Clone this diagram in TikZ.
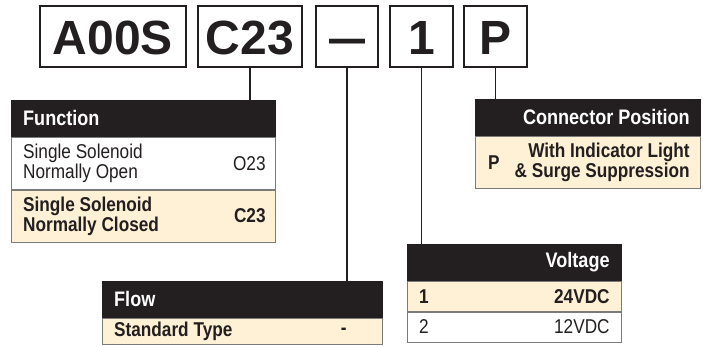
\documentclass[tikz,border=0pt]{standalone}
\usepackage{fontspec}
\usepackage{graphicx}
\setmainfont{Liberation Sans}
\newfontfamily\etroit{Liberation Sans}[FakeStretch=0.86]
\usetikzlibrary{positioning}

\definecolor{noir}{HTML}{231F20}
\definecolor{creme}{HTML}{FEF1D6}
\definecolor{bord}{HTML}{7A7A7A}

\tikzset{
  code/.style={draw=noir, line width=2pt, minimum height=61, text height=36, text depth=0,
    inner sep=0, font=\fontsize{48}{48}\selectfont\bfseries, text=noir},
  entete/.style={fill=noir, draw=noir, line width=0.8pt, minimum height=36, inner sep=0},
  ligne/.style={draw=bord, line width=0.8pt, inner sep=0},
  titre/.style={font=\etroit\fontsize{21}{22}\selectfont\bfseries, text=white, inner sep=0},
  gras/.style={font=\etroit\fontsize{20}{20}\selectfont\bfseries, text=noir, inner sep=0},
  normal/.style={font=\etroit\fontsize{20}{20}\selectfont, text=noir, inner sep=0},
  lien/.style={draw=noir, line width=1.5pt}
}

\begin{document}
\begin{tikzpicture}[x=1pt,y=-1pt]
  \useasboundingbox (0,0) rectangle (703,347);

  % Cases du code
  \node[code, minimum width=146] (serie) at (113,36.5) {A00S};
  \node[code, minimum width=104] (fonction) at (250,36.5) {C23};
  \node[code, minimum width=62] (debit) at (347,36.5) {\scalebox{0.75}[1]{—}};
  \node[code, minimum width=63] (tension) at (421.5,36.5) {1};
  \node[code, minimum width=63] (connecteur) at (495.5,36.5) {P};

  % Tableau Function
  \node[entete, minimum width=264, anchor=north west] (tabfonction) at (11,100) {};
  \node[ligne, fill=white, minimum width=264, minimum height=52, anchor=north] (fonction1) at (tabfonction.south) {};
  \node[ligne, fill=creme, minimum width=264, minimum height=52, anchor=north] (fonction2) at (fonction1.south) {};
  \node[titre, anchor=west] at ([xshift=12]tabfonction.west) {Function};
  \node[normal, anchor=west, align=left] at ([xshift=12]fonction1.west) {Single Solenoid\\Normally Open};
  \node[normal, anchor=east] at ([xshift=-10]fonction1.east) {O23};
  \node[gras, anchor=west, align=left] at ([xshift=12]fonction2.west) {Single Solenoid\\Normally Closed};
  \node[gras, anchor=east] at ([xshift=-10]fonction2.east) {C23};

  % Tableau Connector Position
  \node[entete, minimum width=225, anchor=north west] (tabconnecteur) at (475,99) {};
  \node[ligne, fill=creme, minimum width=225, minimum height=52, anchor=north] (connecteur1) at (tabconnecteur.south) {};
  \node[titre, anchor=east] at ([xshift=-11]tabconnecteur.east) {Connector Position};
  \node[gras, anchor=west] at ([xshift=13]connecteur1.west) {P};
  \node[gras, anchor=east, align=right] at ([xshift=-11]connecteur1.east) {With Indicator Light\\\& Surge Suppression};

  % Tableau Flow
  \node[entete, minimum width=280, anchor=north west] (tabdebit) at (102,281) {};
  \node[ligne, fill=creme, minimum width=280, minimum height=26, anchor=north] (debit1) at (tabdebit.south) {};
  \node[titre, anchor=west] at ([xshift=12]tabdebit.west) {Flow};
  \node[gras, anchor=west] at ([xshift=12]debit1.west) {Standard Type};
  \node[gras] at ([xshift=-39]debit1.east) {-};

  % Tableau Voltage
  \node[entete, minimum width=214, anchor=north west] (tabtension) at (407,244) {};
  \node[ligne, fill=creme, minimum width=214, minimum height=30, anchor=north] (tension1) at (tabtension.south) {};
  \node[ligne, fill=white, minimum width=214, minimum height=30, anchor=north] (tension2) at (tension1.south) {};
  \node[titre, anchor=east] at ([xshift=-12]tabtension.east) {Voltage};
  \node[gras, anchor=west] at ([xshift=12]tension1.west) {1};
  \node[gras, anchor=east] at ([xshift=-12]tension1.east) {24VDC};
  \node[normal, anchor=west] at ([xshift=12]tension2.west) {2};
  \node[normal, anchor=east] at ([xshift=-12]tension2.east) {12VDC};

  % Liens
  \draw[lien] (fonction.south) -- (fonction.south |- tabfonction.north);
  \draw[lien] (debit.south) -- (debit.south |- tabdebit.north);
  \draw[lien] (tension.south) -- (tension.south |- tabtension.north);
  \draw[lien] (connecteur.south) -- (connecteur.south |- tabconnecteur.north);
\end{tikzpicture}
\end{document}
